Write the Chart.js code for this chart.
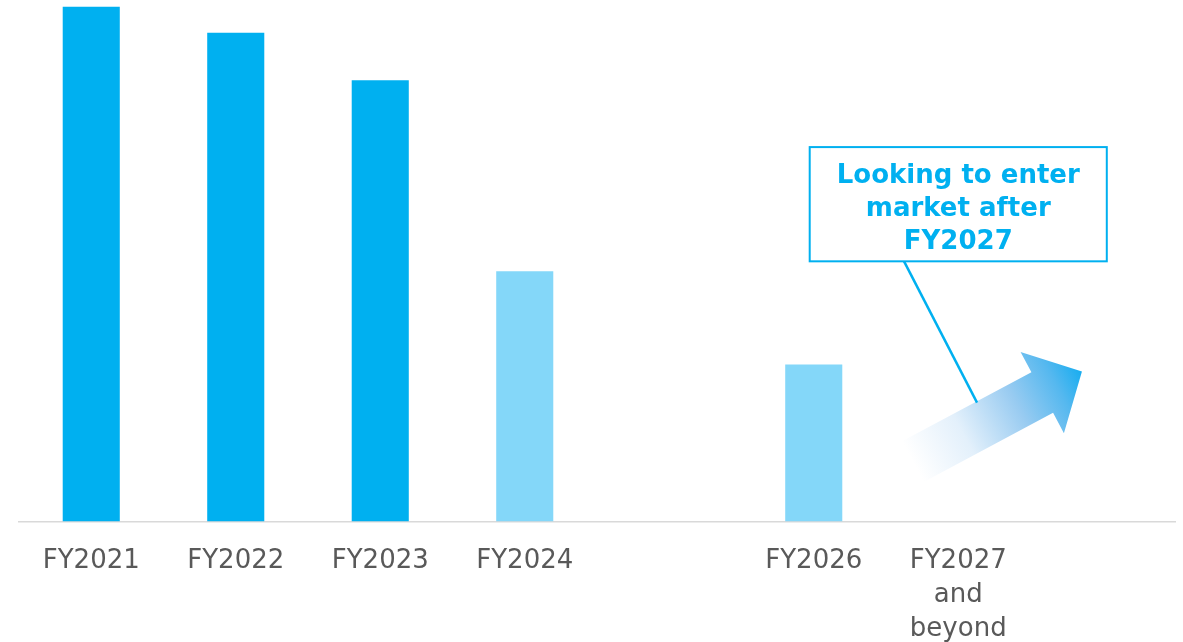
<!DOCTYPE html>
<html>
<head>
<meta charset="utf-8">
<title>Market entry outlook</title>
<script src="https://cdn.jsdelivr.net/npm/chart.js@4/dist/chart.umd.min.js"></script>
<style>
  html, body { margin: 0; padding: 0; background: #ffffff; }
  #wrap { width: 1183px; height: 642px; overflow: hidden; }
</style>
</head>
<body>
<div id="wrap"><canvas id="chart" width="1183" height="642"></canvas></div>
<script>
// Fiscal years on the category axis (blank slots keep the spacing)
const categories = ['FY2021', 'FY2022', 'FY2023', 'FY2024', '', 'FY2026', ['FY2027', 'and', 'beyond'], ''];
// Relative volume per year (index, no axis shown)
const volumes = [98.7, 93.7, 84.6, 48.0, null, 30.1, null, null];
// Actual years vs. forecast years
const isForecast = [false, false, false, true, false, true, false, false];

const DARK_BLUE = '#00B0F0';
const LIGHT_BLUE = '#84D7F9';
const FONT = '"DejaVu Sans", Verdana, sans-serif';

// Callout text and where it sits (category index / value units)
const calloutLines = ['Looking to enter', 'market after', 'FY2027'];
const callout = { centerIdx: 6.0, halfWidthIdx: 1.028, top: 71.8, bottom: 49.9 };
const leader = { from: [5.625, 49.9], to: [6.13, 22.8] };
const growthArrow = { tail: [5.686, 11.5], tip: [6.856, 28.8] };

const annotationPlugin = {
  id: 'entryCallout',
  afterDatasetsDraw(chart) {
    const ctx = chart.ctx;
    const xs = chart.scales.x, ys = chart.scales.y;
    const px = (i) => xs.getPixelForValue(i);
    const py = (v) => ys.getPixelForValue(v);

    // growth arrow with fading gradient
    const tx = px(growthArrow.tail[0]), ty = py(growthArrow.tail[1]);
    const hx = px(growthArrow.tip[0]), hy = py(growthArrow.tip[1]);
    const len = Math.hypot(hx - tx, hy - ty);
    const ang = Math.atan2(hy - ty, hx - tx);
    const headLen = 45, headHalf = 46, shaftHalf = 23;
    ctx.save();
    ctx.translate(tx, ty);
    ctx.rotate(ang);
    const g = ctx.createLinearGradient(0, 0, len, 0);
    g.addColorStop(0, 'rgba(255,255,255,1)');
    g.addColorStop(0.3, '#e3f0fb');
    g.addColorStop(0.62, '#98cbf1');
    g.addColorStop(0.85, '#55b8ef');
    g.addColorStop(1, '#18adf0');
    ctx.fillStyle = g;
    ctx.beginPath();
    ctx.moveTo(0, -shaftHalf);
    ctx.lineTo(len - headLen, -shaftHalf);
    ctx.lineTo(len - headLen, -headHalf);
    ctx.lineTo(len, 0);
    ctx.lineTo(len - headLen, headHalf);
    ctx.lineTo(len - headLen, shaftHalf);
    ctx.lineTo(0, shaftHalf);
    ctx.closePath();
    ctx.fill();
    ctx.restore();

    // leader line from callout to arrow
    ctx.save();
    ctx.strokeStyle = DARK_BLUE;
    ctx.lineWidth = 2.5;
    ctx.beginPath();
    ctx.moveTo(px(leader.from[0]), py(leader.from[1]));
    ctx.lineTo(px(leader.to[0]), py(leader.to[1]));
    ctx.stroke();
    ctx.restore();

    // callout box
    const catW = px(1) - px(0);
    const cx = px(callout.centerIdx);
    const left = cx - callout.halfWidthIdx * catW;
    const right = cx + callout.halfWidthIdx * catW;
    const top = py(callout.top), bottom = py(callout.bottom);
    ctx.save();
    ctx.fillStyle = '#ffffff';
    ctx.fillRect(left, top, right - left, bottom - top);
    ctx.strokeStyle = DARK_BLUE;
    ctx.lineWidth = 2;
    ctx.strokeRect(left, top, right - left, bottom - top);
    ctx.fillStyle = DARK_BLUE;
    ctx.font = 'bold 26px ' + FONT;
    ctx.textAlign = 'center';
    ctx.textBaseline = 'alphabetic';
    const lineGap = 33;
    calloutLines.forEach((t, i) => {
      ctx.fillText(t, cx, top + 36 + i * lineGap);
    });
    ctx.restore();
  }
};

new Chart(document.getElementById('chart'), {
  type: 'bar',
  data: {
    labels: categories,
    datasets: [{
      data: volumes,
      backgroundColor: isForecast.map(f => f ? LIGHT_BLUE : DARK_BLUE),
      borderWidth: 0,
      categoryPercentage: 1,
      barPercentage: 0.395
    }]
  },
  options: {
    responsive: false,
    devicePixelRatio: 1,
    animation: false,
    layout: { padding: { left: 19, right: 8, top: 0, bottom: -19 } },
    plugins: { legend: { display: false }, tooltip: { enabled: false } },
    scales: {
      x: {
        grid: { display: false },
        border: { display: true, color: '#d9d9d9', width: 1.5 },
        ticks: {
          color: '#595959',
          font: { family: FONT, size: 26, lineHeight: 1.3 },
          padding: 15,
          maxRotation: 0,
          autoSkip: false
        }
      },
      y: {
        display: false,
        min: 0,
        max: 100
      }
    }
  },
  plugins: [annotationPlugin]
});
</script>
</body>
</html>
